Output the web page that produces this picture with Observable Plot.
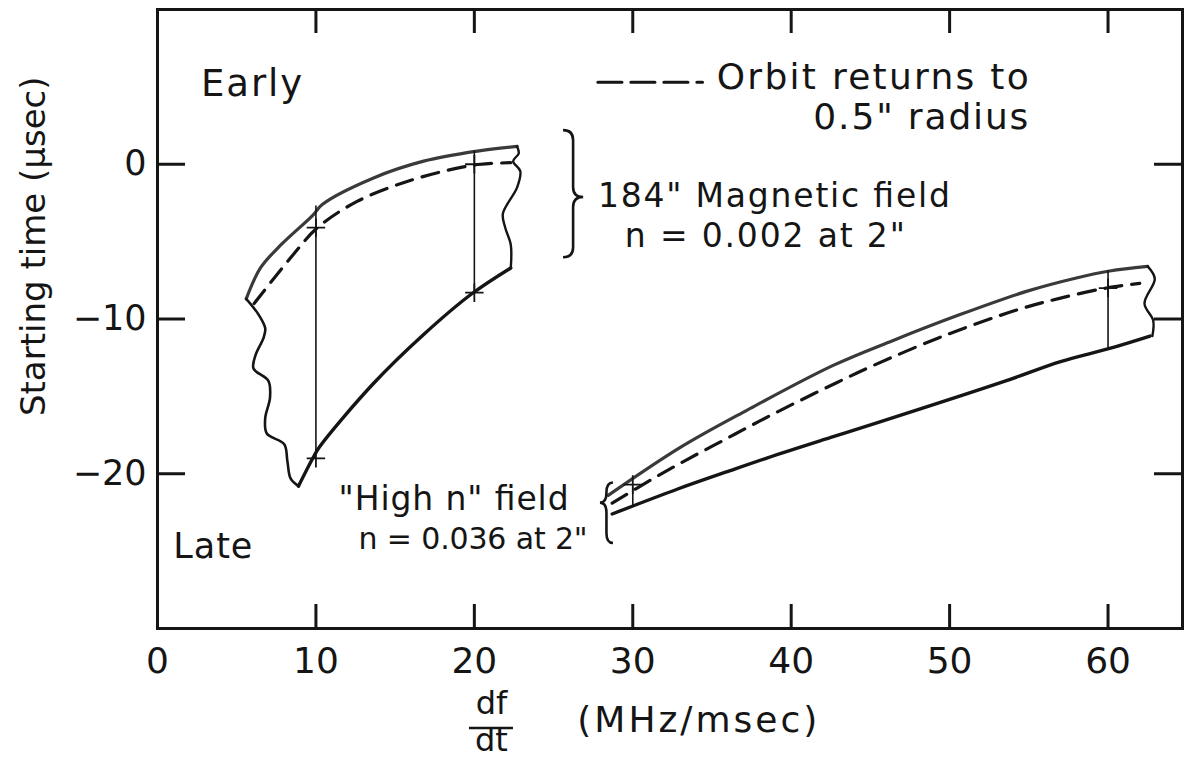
<!DOCTYPE html>
<html>
<head>
<meta charset="utf-8">
<script src="https://cdn.jsdelivr.net/npm/d3@7"></script>
<script src="https://cdn.jsdelivr.net/npm/@observablehq/plot@0.6"></script>
<style>
  html, body { margin: 0; padding: 0; background: #fff; }
  #chart svg { display: block; }
</style>
</head>
<body>
<div id="chart"></div>
<script>
// ---------- axis ticks ----------
const xTicks = [10, 20, 30, 40, 50, 60];
const xTickLabelValues = [0, 10, 20, 30, 40, 50, 60];
const yTicks = [0, -10, -20];
const yTickLabels = ["0", "\u221210", "\u221220"];

// ---------- 184" Magnetic field (n = 0.002 at 2") band ----------
const magUpperX  = [5.6, 6.5, 7.8, 9.8, 10.4, 13.6, 16.8, 20.2, 22.7];
const magUpperY  = [-8.7, -6.7, -5.2, -3.3, -2.6, -0.9, 0.2, 0.85, 1.15];
const magOrbitX  = [6.1, 8.6, 10.1, 12.6, 15.8, 18.7, 20.4, 22.3];
const magOrbitY  = [-9.0, -5.8, -4.1, -2.4, -1.1, -0.3, 0.0, 0.1];
const magLowerX  = [8.9, 9.8, 10.2, 13.6, 16.8, 19.8, 22.3];
const magLowerY  = [-20.8, -19.0, -18.3, -14.2, -11.0, -8.4, -6.7];
const magLeftX   = [5.6, 6.37, 6.8, 6.7, 6.2, 6.06, 7.0, 7.1, 6.8, 6.9, 8.0, 8.2, 8.4, 8.9];
const magLeftY   = [-8.7, -9.7, -10.6, -11.2, -12.3, -13.2, -14.0, -15.1, -16.4, -17.4, -18.1, -19.2, -20.3, -20.8];
const magRightX  = [22.7, 22.8, 22.45, 22.9, 22.7, 21.8, 21.95, 22.3, 22.3];
const magRightY  = [1.15, 0.7, 0.2, -0.45, -1.5, -3.2, -4.1, -5.2, -6.7];

// ---------- "High n" field (n = 0.036 at 2") band ----------
const highUpperX = [28.45, 33.0, 37.2, 42.65, 46.4, 50.7, 54.9, 58.0, 60.1, 62.5];
const highUpperY = [-21.4, -18.3, -15.9, -13.0, -11.4, -9.7, -8.2, -7.35, -6.9, -6.6];
const highOrbitX = [28.7, 31.3, 33.4, 35.7, 38.0, 40.4, 42.9, 45.2, 49.6, 54.3, 57.0, 59.9, 62.0];
const highOrbitY = [-21.9, -20.3, -19.1, -17.85, -16.6, -15.35, -14.1, -13.0, -11.1, -9.4, -8.65, -8.0, -7.7];
const highLowerX = [28.7, 32.8, 36.15, 39.3, 42.5, 45.6, 53.4, 57.0, 60.1, 62.65];
const highLowerY = [-22.6, -21.0, -19.8, -18.7, -17.65, -16.65, -14.05, -12.75, -11.9, -11.1];
const highRightX = [62.5, 62.95, 62.3, 62.85, 62.8];
const highRightY = [-6.6, -7.4, -9.0, -10.1, -11.1];

// ---------- cross lines at marked df/dt values ----------
const crossX  = [10, 20, 30, 60];
const crossY1 = [-2.7, 0.85, -20.9, -6.9];
const crossY2 = [-18.8, -8.3, -22.1, -11.9];
const plusX = [10, 10, 20, 20, 30, 60];
const plusY = [-4.1, -19.0, 0.0, -8.3, -20.7, -8.0];

// ---------- annotations ----------
const labelsStart = [
  {text: "Early", x: 2.75, y: 5.2, size: 37, w: 101},
  {text: "Late", x: 1.0, y: -24.75, size: 35, w: 79},
  {text: "Orbit returns to", x: 35.3, y: 5.6, size: 36, w: 312},
  {text: "0.5\" radius", x: 41.4, y: 3.0, size: 36, w: 215},
  {text: "184\" Magnetic field", x: 27.8, y: -2.05, size: 33, w: 352},
  {text: "n = 0.002 at 2\"", x: 29.5, y: -4.65, size: 33, w: 280}
];
const labelsEnd = [
  {text: "\"High n\" field", x: 25.95, y: -21.65, size: 33, w: 230},
  {text: "n = 0.036 at 2\"", x: 27.15, y: -24.25, size: 30, w: 229}
];
const legendDashX = [27.8, 34.4];
const legendDashY = [5.3, 5.3];
const braces = [
  {x0: 25.63, x1: 26.9, yTop: 2.17, yBot: -6.04, yTip: -2.15},   // "}" pointing right
  {x0: 28.78, x1: 27.96, yTop: -20.6, yBot: -24.5, yTip: -21.9}   // "{" pointing left
];
const yTitle = "Starting time (\u03bcsec)";
const xTitleNum = "df", xTitleDen = "dt", xTitleUnit = "(MHz/msec)";
const xTitleUnitWidth = 240;

// ---------- build tables ----------
const zipPts = (xs, ys) => xs.map((x, i) => ({x, y: ys[i]}));
const magUpper = zipPts(magUpperX, magUpperY);
const magOrbit = zipPts(magOrbitX, magOrbitY);
const magLower = zipPts(magLowerX, magLowerY);
const magLeft  = zipPts(magLeftX, magLeftY);
const magRight = zipPts(magRightX, magRightY);
const highUpper = zipPts(highUpperX, highUpperY);
const highOrbit = zipPts(highOrbitX, highOrbitY);
const highLower = zipPts(highLowerX, highLowerY);
const highRight = zipPts(highRightX, highRightY);
const crosses = crossX.map((x, i) => ({x, y1: crossY1[i], y2: crossY2[i]}));
const pluses = zipPts(plusX, plusY);
const legendDash = zipPts(legendDashX, legendDashY);

const W = 1184, H = 772;
const mL = 157, mR = 2, mT = 9, mB = 144;
const frameW = W - mL - mR, frameH = H - mT - mB;
const tickLen = 24;
const ink = "#151515";
const font = "DejaVu Sans, sans-serif";

function extras(index, scales, values, dimensions) {
  const {x, y} = scales;
  const g = d3.create("svg:g").attr("fill", "none").attr("stroke", ink).attr("stroke-width", 2.6);
  for (const b of braces) {
    const a = x(b.x0), t = x(b.x1), m = (a + t) / 2;
    const yt = y(b.yTop), yb = y(b.yBot), ym = y(b.yTip);
    const r = Math.min(10, Math.abs(ym - yt) / 2, Math.abs(yb - ym) / 2);
    const path = `M${a},${yt} Q${m},${yt} ${m},${yt + r} L${m},${ym - r} Q${m},${ym} ${t},${ym}` +
                 ` Q${m},${ym} ${m},${ym + r} L${m},${yb - r} Q${m},${yb} ${a},${yb}`;
    g.append("path").attr("d", path);
  }
  // fraction bar of df/dt
  const fx = x(21.08);
  const by = dimensions.height - dimensions.marginBottom + 100;
  g.append("line").attr("x1", fx - 22).attr("x2", fx + 22).attr("y1", by).attr("y2", by).attr("stroke-width", 2.5);
  return g.node();
}

const textMarks = (rows, anchor) => rows.map(r =>
  Plot.text([r], {x: "x", y: "y", text: "text", textAnchor: anchor, fontSize: r.size, fill: ink}));

const chart = Plot.plot({
  width: W, height: H,
  marginLeft: mL, marginRight: mR, marginTop: mT, marginBottom: mB,
  x: {domain: [0, 64.7], axis: null},
  y: {domain: [-30, 10], axis: null},
  style: {fontFamily: font, background: "#fff", color: ink, overflow: "visible"},
  marks: [
    Plot.frame({stroke: ink, strokeWidth: 3}),
    // inward ticks
    Plot.tickX(xTicks, {x: d => d, insetTop: frameH - tickLen, stroke: ink, strokeWidth: 3}),
    Plot.tickX(xTicks, {x: d => d, insetBottom: frameH - tickLen, stroke: ink, strokeWidth: 3}),
    Plot.tickY(yTicks, {y: d => d, insetRight: frameW - tickLen - 4, stroke: ink, strokeWidth: 3}),
    Plot.tickY(yTicks, {y: d => d, insetLeft: frameW - tickLen - 4, stroke: ink, strokeWidth: 3}),
    // tick labels
    Plot.text(xTickLabelValues, {x: d => d, frameAnchor: "bottom", dy: 44, text: d => String(d), fontSize: 36, fill: ink}),
    Plot.text(yTicks, {y: d => d, frameAnchor: "left", dx: -11, textAnchor: "end", text: (d, i) => yTickLabels[i], fontSize: 35, fill: ink}),
    // axis titles
    Plot.text([yTitle], {y: -5.3, frameAnchor: "left", dx: -123, rotate: -90, textAnchor: "middle", text: d => d, fontSize: 34, fill: ink}),
    Plot.text([xTitleNum], {x: 21.08, frameAnchor: "bottom", dy: 85, text: d => d, fontSize: 32, fill: ink}),
    Plot.text([xTitleDen], {x: 21.08, frameAnchor: "bottom", dy: 122, text: d => d, fontSize: 32, fill: ink}),
    Plot.text([xTitleUnit], {x: 26.5, frameAnchor: "bottom", dy: 103, textAnchor: "start", text: d => d, fontSize: 36, fill: ink}),
    // 184" field band
    Plot.line(magUpper, {x: "x", y: "y", stroke: "#3a3a3a", strokeWidth: 3.2, curve: "catmull-rom"}),
    Plot.line(magOrbit, {x: "x", y: "y", stroke: ink, strokeWidth: 3.2, strokeDasharray: "17,10", curve: "catmull-rom"}),
    Plot.line(magLower, {x: "x", y: "y", stroke: ink, strokeWidth: 3.4, curve: "catmull-rom"}),
    Plot.line(magLeft, {x: "x", y: "y", stroke: ink, strokeWidth: 2.6, curve: "catmull-rom"}),
    Plot.line(magRight, {x: "x", y: "y", stroke: ink, strokeWidth: 2.4, curve: "catmull-rom"}),
    // high n band
    Plot.line(highUpper, {x: "x", y: "y", stroke: "#3a3a3a", strokeWidth: 3.2, curve: "catmull-rom"}),
    Plot.line(highOrbit, {x: "x", y: "y", stroke: ink, strokeWidth: 3.2, strokeDasharray: "17,10", curve: "catmull-rom"}),
    Plot.line(highLower, {x: "x", y: "y", stroke: ink, strokeWidth: 3.4, curve: "catmull-rom"}),
    Plot.line(highRight, {x: "x", y: "y", stroke: ink, strokeWidth: 2.4, curve: "catmull-rom"}),
    // cross lines and marks
    Plot.ruleX(crosses, {x: "x", y1: "y1", y2: "y2", stroke: ink, strokeWidth: 1.6}),
    Plot.dot(pluses, {x: "x", y: "y", symbol: "plus", r: 6, stroke: ink, strokeWidth: 1.8}),
    // legend
    Plot.line(legendDash, {x: "x", y: "y", stroke: ink, strokeWidth: 3.2, strokeDasharray: "24,9"}),
    // annotations
    ...textMarks(labelsStart, "start"),
    ...textMarks(labelsEnd, "end"),
    extras
  ]
});

// spread the hand-lettered annotations to their drawn widths
const widthByText = new Map([...labelsStart, ...labelsEnd].map(r => [r.text, r.w]));
widthByText.set(xTitleUnit, xTitleUnitWidth);
d3.select(chart).selectAll("text").each(function() {
  const w = widthByText.get(this.textContent);
  if (w) { this.setAttribute("textLength", w); this.setAttribute("lengthAdjust", "spacing"); }
});
document.getElementById("chart").appendChild(chart);
</script>
</body>
</html>
